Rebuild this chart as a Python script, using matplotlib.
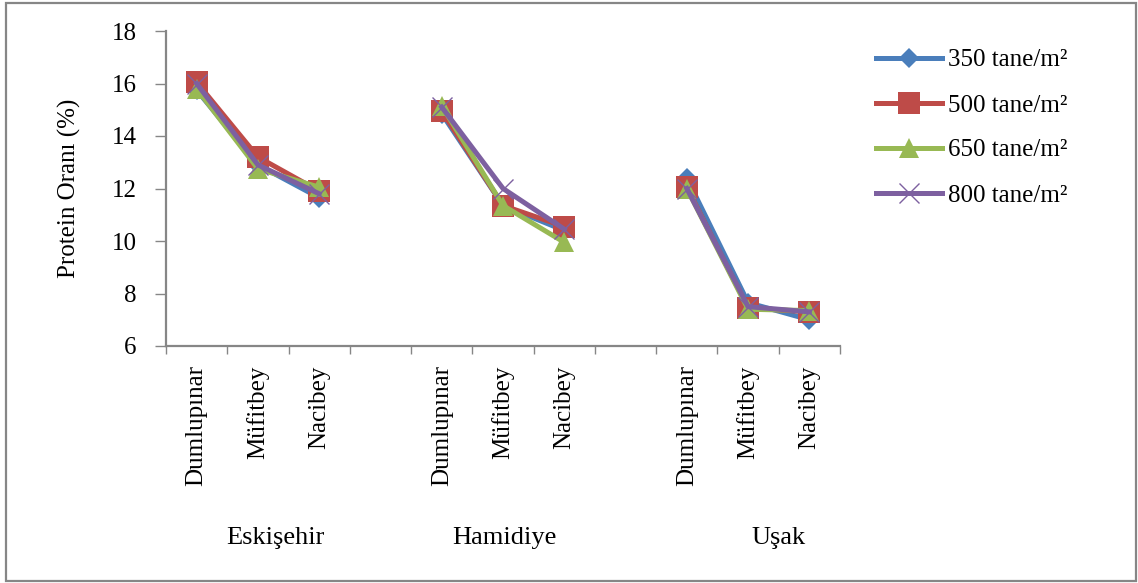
import numpy as np
import matplotlib
matplotlib.use('Agg')
import matplotlib.pyplot as plt
from matplotlib.patches import Rectangle

plt.rcParams['font.family'] = ['Liberation Serif', 'DejaVu Serif']

# cultivars inside each location, gaps between locations
cultivars = ['Dumlupınar', 'Müfitbey', 'Nacibey']
locations = ['Eskişehir', 'Hamidiye', 'Uşak']
loc_label_shift = [0.28, 0.03, 0.5]   # group label offsets (in category units)

series_names = ['350 tane/m²', '500 tane/m²', '650 tane/m²', '800 tane/m²']
s350 = [15.75, 12.9, 11.65, 14.85, 11.35, 10.4, 12.4, 7.65, 7.0]
s500 = [16.05, 13.2, 11.9, 14.95, 11.35, 10.55, 12.05, 7.45, 7.3]
s650 = [15.8, 12.75, 12.05, 15.15, 11.35, 9.95, 12.0, 7.4, 7.35]
s800 = [16.0, 12.9, 11.8, 15.1, 12.0, 10.45, 12.0, 7.5, 7.3]

colors = ['#4A7EBB', '#BE4B48', '#98B954', '#7D60A0']
markers = ['D', 's', '^', 'x']
msizes = [10, 16, 15, 14]

fig = plt.figure(figsize=(11.38, 5.83), dpi=100)
ax = fig.add_axes([166/1138, 1-346/583, (840-166)/1138, (346-31)/583])

# x positions: 3 per group, one empty slot between groups
xpos = []
for g in range(len(locations)):
    for c in range(len(cultivars)):
        xpos.append(g*4 + c)
xpos = np.array(xpos)

for vals, name, col, mk, ms in zip([s350, s500, s650, s800], series_names, colors, markers, msizes):
    vals = np.array(vals)
    for g in range(len(locations)):
        sl = slice(g*3, g*3+3)
        ax.plot(xpos[sl], vals[sl], color=col, lw=3.6, marker=mk, ms=ms,
                mew=1.0 if mk == 'x' else 0, mec=col,
                label=name if g == 0 else None, solid_joinstyle='round')

ax.set_xlim(-0.5, 10.5)
ax.set_ylim(6, 18)
ax.set_yticks(np.arange(6, 19, 2))
ax.tick_params(axis='y', direction='out', length=8, width=1, color='#868686',
               labelsize=18, pad=13)
ax.set_xticks(xpos)
ax.set_xticklabels(cultivars * 3, rotation=90, fontsize=18, va='top')
ax.set_xticks(np.arange(-0.5, 11, 1), minor=True)
ax.tick_params(axis='x', which='major', length=0, pad=14)
ax.tick_params(axis='x', which='minor', length=6, width=1, color='#868686', direction='out')

for sp in ['top', 'right']:
    ax.spines[sp].set_visible(False)
for sp in ['left', 'bottom']:
    ax.spines[sp].set_color('#868686')
    ax.spines[sp].set_linewidth(1.6)

ax.set_ylabel('Protein Oranı (%)', fontsize=18, labelpad=22)

# location names below the cultivar labels
for g, name in enumerate(locations):
    xc = g*4 + 1 + loc_label_shift[g]
    ax.text(xc, -0.61, name, transform=ax.get_xaxis_transform(),
            ha='center', va='center', fontsize=19)

ax.legend(loc='upper left', bbox_to_anchor=(876/1138, 1-49/583),
          bbox_transform=fig.transFigure, frameon=False, fontsize=18,
          handlelength=2.65, handletextpad=0.25, labelspacing=0.9, borderpad=0,
          borderaxespad=0)

# outer chart border
fig.patches.append(Rectangle((6/1138, 2/583), 1130/1138, 578/583, transform=fig.transFigure,
                             fill=False, edgecolor='#868686', lw=1.6))

fig.savefig('out.png', dpi=100)
